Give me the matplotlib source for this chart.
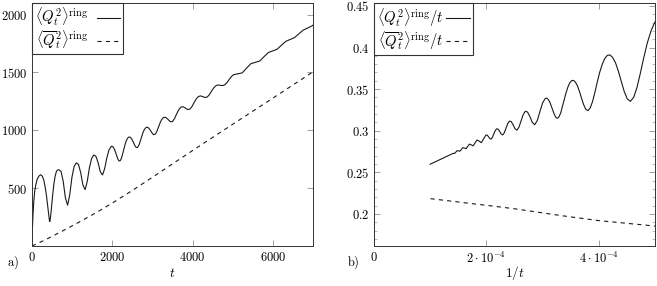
import numpy as np
import matplotlib
matplotlib.use('Agg')
import matplotlib.pyplot as plt
from matplotlib.ticker import FixedLocator, FixedFormatter, MultipleLocator

plt.rcParams['mathtext.fontset'] = 'cm'
plt.rcParams['font.family'] = 'serif'
plt.rcParams['font.serif'] = ['cmr10', 'DejaVu Serif']
plt.rcParams['lines.scale_dashes'] = False
plt.rcParams['axes.unicode_minus'] = False

# ---- data ----
t = [0, 8, 25, 45, 67, 95, 125, 170, 217, 260, 292, 325, 358, 390, 417, 432, 442, 452, 467, 483,
     512, 542, 575, 608, 640,
     669, 723, 778, 832, 887, 941, 995, 1050, 1104, 1158, 1213, 1267, 1322, 1376, 1430, 1485,
     1539, 1593, 1648, 1702, 1757, 1811, 1865, 1920, 1974,
     2001, 2028, 2056, 2083, 2110, 2137, 2164, 2192, 2219, 2246, 2273, 2300, 2327, 2355, 2382,
     2409, 2436, 2463, 2491, 2518, 2545, 2572, 2599, 2627, 2654, 2681, 2708, 2735, 2762, 2790,
     2817, 2844, 2871, 2898, 2926, 2953, 2980, 3007, 3034, 3062, 3089, 3116, 3143, 3170, 3197,
     3225, 3252, 3279,
     3333, 3388, 3442, 3497, 3551, 3605, 3660, 3714, 3768, 3823, 3877, 3932, 3986, 4040, 4095,
     4149, 4203, 4258, 4312, 4367, 4421, 4475, 4530, 4584, 4638, 4693, 4747, 4802, 4856, 4910,
     4965, 5019,
     5128, 5237, 5345, 5454, 5563, 5672, 5780, 5889, 5998, 6107, 6215, 6324, 6433, 6542, 6650,
     6759, 6868, 6977, 7085,
     7500, 8000, 8500, 9000, 9500, 10000]
Q = [0, 130, 269, 390, 471, 530, 572, 604, 616, 602, 572, 515, 442, 345, 269, 226, 212, 224, 266, 327,
     430, 529, 600, 645, 657,
     658.6, 645.4, 558.1, 415.6, 352.9, 444.0, 594.7, 689.0, 718.4, 705.0, 633.8, 529.2, 487.1, 557.4,
     675.3, 756.7, 786.4, 775.0, 718.3, 641.6, 614.0, 669.4, 762.8, 832.5, 861.0,
     861.3, 852.4, 834.2, 808.2, 778.8, 752.4, 736.1, 735.1, 750.6, 779.8, 816.7, 854.6, 888.1, 914.1,
     931.6, 940.7, 941.9, 935.2, 921.2, 901.7, 880.1, 861.5, 850.8, 851.6, 864.9, 888.5, 918.3, 949.3,
     977.4, 999.9, 1015.6, 1024.4, 1026.4, 1021.8, 1011.5, 997.2, 981.7, 968.9, 962.2, 964.4, 976.0,
     995.5, 1019.9, 1045.5, 1069.3, 1088.8, 1103.0, 1111.5,
     1111.5, 1094.1, 1074.9, 1074.4, 1101.2, 1143.0, 1180.2, 1201.1, 1203.3, 1191.9, 1179.6, 1182.2,
     1205.6, 1241.0, 1273.3, 1292.7, 1296.9, 1290.3, 1283.3, 1288.1, 1309.1, 1339.6, 1367.8, 1385.9,
     1391.6, 1388.9, 1386.2, 1392.6, 1411.7, 1438.2, 1463.3, 1480.2,
     1487.7, 1496.0, 1537.2, 1575.7, 1586.7, 1598.5, 1636.2, 1671.9, 1685.7, 1700.4, 1735.3, 1768.8,
     1784.8, 1801.6, 1834.4, 1866.1, 1884.0, 1902.4, 1933.5,
     2028, 2142, 2256, 2370, 2484, 2598]

t_bar = [0, 250, 500, 750, 1000, 1250, 1500, 1750, 2000, 2500, 3000, 4000, 5000, 6000, 7000,
         8000, 9000, 10000]
Q_bar = [0, 40, 83, 128, 174, 221, 269, 319, 371, 480, 594, 825, 1052, 1278, 1505,
         1731, 1958, 2184]

left_xticks = [0, 2000, 4000, 6000]
left_xticklabels = ['$0$', '$2000$', '$4000$', '$6000$']
left_yticks = [500, 1000, 1500, 2000]
left_yticklabels = ['$500$', '$1000$', '$1500$', '$2000$']
right_xticks = [0, 2e-4, 4e-4]
right_xticklabels = [r'$0$', r'$2\cdot10^{-4}$', r'$4\cdot10^{-4}$']
right_yticks = [0.2, 0.25, 0.3, 0.35, 0.4, 0.45]
right_yticklabels = ['$0.2$', '$0.25$', '$0.3$', '$0.35$', '$0.4$', '$0.45$']

lab_l1 = r'$\langle Q_t^2\rangle^{\mathrm{ring}}$'
lab_l2 = r'$\langle \overline{Q}_t^2\rangle^{\mathrm{ring}}$'
lab_r1 = r'$\langle Q_t^2\rangle^{\mathrm{ring}}/t$'
lab_r2 = r'$\langle \overline{Q}_t^2\rangle^{\mathrm{ring}}/t$'

# ---- figure ----
W, H = 657, 286
fig = plt.figure(figsize=(W / 100, H / 100), dpi=100)
ax1 = fig.add_axes([32 / W, 40 / H, 281 / W, 243 / H])
ax2 = fig.add_axes([374 / W, 40 / H, 281 / W, 243 / H])

lc = '#1a1a1a'
lw = 0.8
dash = (0, (3, 3))
fs = 9
lfs = 10.5

tt = np.array(t, dtype=float)
qq = np.array(Q, dtype=float)
tb = np.array(t_bar, dtype=float)
qb = np.array(Q_bar, dtype=float)

ax1.plot(tt, qq, color=lc, lw=lw, label=lab_l1)
ax1.plot(tb, qb, color=lc, lw=lw, linestyle=dash, label=lab_l2)
ax1.set_xlim(0, 7000)
ax1.set_ylim(0, 2100)
ax1.xaxis.set_major_locator(FixedLocator(left_xticks))
ax1.xaxis.set_major_formatter(FixedFormatter(left_xticklabels))
ax1.yaxis.set_major_locator(FixedLocator(left_yticks))
ax1.yaxis.set_major_formatter(FixedFormatter(left_yticklabels))

m = tt > 0
mb = tb > 0
ax2.plot(1.0 / tt[m], qq[m] / tt[m], color=lc, lw=lw, label=lab_r1)
ax2.plot(1.0 / tb[mb], qb[mb] / tb[mb], color=lc, lw=lw, linestyle=dash, label=lab_r2)
ax2.set_xlim(0, 5e-4)
ax2.set_ylim(0.1615, 0.4535)
ax2.xaxis.set_major_locator(FixedLocator(right_xticks))
ax2.xaxis.set_major_formatter(FixedFormatter(right_xticklabels))
ax2.yaxis.set_major_locator(FixedLocator(right_yticks))
ax2.yaxis.set_major_formatter(FixedFormatter(right_yticklabels))
ax2.yaxis.set_minor_locator(MultipleLocator(0.01))

for ax, hl, htp in ((ax1, 1.6, 0.6), (ax2, 1.6, 0.2)):
    for s in ax.spines.values():
        s.set_linewidth(0.7)
        s.set_color('#333333')
    ax.tick_params(which='major', direction='in', top=True, right=True, length=4,
                   width=0.6, color='#909090', labelsize=fs, pad=3.5)
    ax.tick_params(which='minor', direction='in', left=True, right=True, top=False, bottom=False,
                   length=2.2, width=0.5, color='#a0a0a0')
    leg = ax.legend(loc='upper left', bbox_to_anchor=(0, 1), borderaxespad=0,
                    markerfirst=False, frameon=True, fancybox=False, edgecolor='#333333',
                    framealpha=1, fontsize=lfs, handlelength=hl, handletextpad=htp,
                    borderpad=0.2, labelspacing=0.02)
    leg.get_frame().set_linewidth(0.8)

fig.text(7 / W, 1 - 266 / H, r'$\mathrm{a)}$', fontsize=fs, va='baseline', ha='left')
fig.text(347 / W, 1 - 266 / H, r'$\mathrm{b)}$', fontsize=fs, va='baseline', ha='left')
fig.text(172.5 / W, 1 - 277 / H, r'$t$', fontsize=fs + 0.5, va='baseline', ha='center')
fig.text(514.5 / W, 1 - 277 / H, r'$1/t$', fontsize=fs + 0.5, va='baseline', ha='center')

fig.savefig('out.png', dpi=100)
